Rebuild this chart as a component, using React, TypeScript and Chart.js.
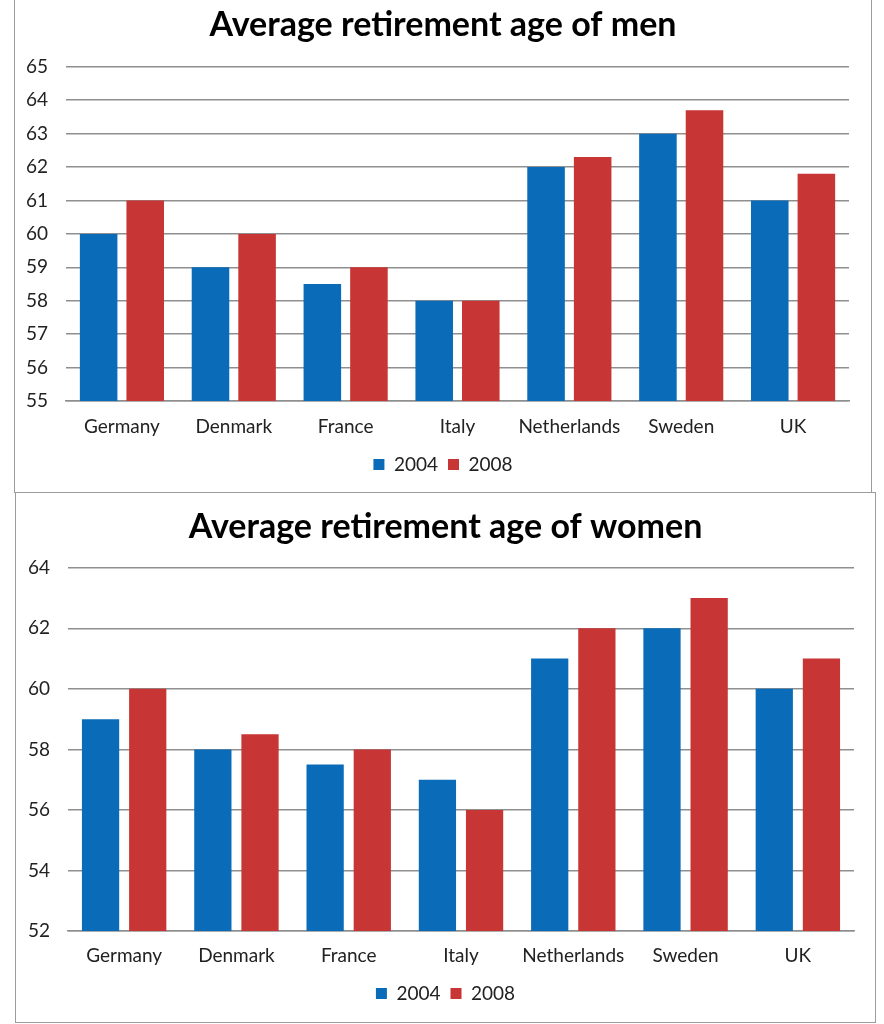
import React, { useEffect, useRef } from 'react';
import { Chart, registerables } from 'chart.js';

Chart.register(...registerables);

const countries = ['Germany', 'Denmark', 'France', 'Italy', 'Netherlands', 'Sweden', 'UK'];
const seriesNames = ['2004', '2008'];
const men2004 = [60, 59, 58.5, 58, 62, 63, 61];
const men2008 = [61, 60, 59, 58, 62.3, 63.7, 61.8];
const women2004 = [59, 58, 57.5, 57, 61, 62, 60];
const women2008 = [60, 58.5, 58, 56, 62, 63, 61];

const BLUE = '#0a6cb8';
const RED = '#c83535';
const GRID = '#8f8f8f';
const FONT = 'Lato, "Open Sans", sans-serif';

interface PanelProps {
  title: string;
  a: number[];
  b: number[];
  min: number;
  max: number;
  step: number;
  box: { left: number; top: number; width: number; height: number };
  titlePad: { top: number; bottom: number };
  yWidth: number;
  xHeight: number;
  xPad: number;
  rightGap: number;
  padBottom: number;
  catPct: number;
  barPct: number;
}

const Panel: React.FC<PanelProps> = (p) => {
  const chartRef = useRef<HTMLCanvasElement | null>(null);
  const chartInstance = useRef<Chart | null>(null);

  useEffect(() => {
    if (!chartRef.current) return;
    if (chartInstance.current) chartInstance.current.destroy();
    const ctx = chartRef.current.getContext('2d');
    if (!ctx) return;

    chartInstance.current = new Chart(ctx, {
      type: 'bar',
      data: {
        labels: countries,
        datasets: [
          { label: seriesNames[0], data: p.a, backgroundColor: BLUE, categoryPercentage: p.catPct, barPercentage: p.barPct },
          { label: seriesNames[1], data: p.b, backgroundColor: RED, categoryPercentage: p.catPct, barPercentage: p.barPct },
        ],
      },
      options: {
        animation: false,
        responsive: true,
        maintainAspectRatio: false,
        layout: { padding: { left: 0, right: 0, top: 0, bottom: p.padBottom } },
        plugins: {
          title: {
            display: true,
            text: p.title,
            color: '#000',
            font: { family: FONT, size: 34, weight: 'bold', lineHeight: 1.2 },
            padding: p.titlePad,
          },
          legend: {
            position: 'bottom',
            labels: {
              boxWidth: 11,
              boxHeight: 11,
              color: '#222',
              padding: 10,
              font: { family: FONT, size: 19 },
            },
          },
          tooltip: { enabled: false },
        },
        scales: {
          x: {
            grid: { display: false, drawTicks: false },
            border: { display: true, color: GRID, width: 1.5 },
            ticks: { color: '#222', padding: p.xPad, font: { family: FONT, size: 19 } },
            afterFit: (scale: any) => {
              scale.height = p.xHeight;
            },
          },
          y: {
            min: p.min,
            max: p.max,
            grid: { color: GRID, lineWidth: 1.5, drawTicks: false },
            border: { display: false },
            ticks: { stepSize: p.step, color: '#222', padding: 18, font: { family: FONT, size: 19 } },
            afterFit: (scale: any) => {
              scale.width = p.yWidth;
            },
          },
          // empty right axis: only keeps the gap between plot and frame
          gap: {
            position: 'right',
            min: p.min,
            max: p.max,
            grid: { display: false, drawTicks: false },
            border: { display: false },
            ticks: { display: false },
            afterFit: (scale: any) => {
              scale.width = p.rightGap;
            },
          },
        },
      },
    });

    return () => {
      if (chartInstance.current) {
        chartInstance.current.destroy();
        chartInstance.current = null;
      }
    };
  }, [p]);

  return (
    <div
      style={{
        position: 'absolute',
        left: p.box.left,
        top: p.box.top,
        width: p.box.width,
        height: p.box.height,
        border: '1.5px solid #9c9c9c',
        boxSizing: 'border-box',
        background: '#fff',
      }}
    >
      <div style={{ position: 'relative', width: '100%', height: '100%' }}>
        <canvas ref={chartRef}></canvas>
      </div>
    </div>
  );
};

const menProps: PanelProps = {
  title: 'Average retirement age of men',
  a: men2004,
  b: men2008,
  min: 55,
  max: 65,
  step: 1,
  box: { left: 14, top: -2, width: 858, height: 495 },
  titlePad: { top: 6, bottom: 21 },
  yWidth: 51,
  xHeight: 44,
  xPad: 14,
  rightGap: 22,
  padBottom: 8,
  catPct: 0.833,
  barPct: 0.806,
};

const womenProps: PanelProps = {
  title: 'Average retirement age of women',
  a: women2004,
  b: women2008,
  min: 52,
  max: 64,
  step: 2,
  box: { left: 15, top: 492, width: 861, height: 531 },
  titlePad: { top: 14, bottom: 20 },
  yWidth: 52,
  xHeight: 43,
  xPad: 13,
  rightGap: 21,
  padBottom: 9,
  catPct: 0.84,
  barPct: 0.79,
};

const App: React.FC = () => {
  return (
    <div style={{ position: 'absolute', left: 0, top: 0, width: 884, height: 1024, background: '#fff', overflow: 'hidden' }}>
      <Panel {...menProps} />
      <Panel {...womenProps} />
    </div>
  );
};

export default App;
